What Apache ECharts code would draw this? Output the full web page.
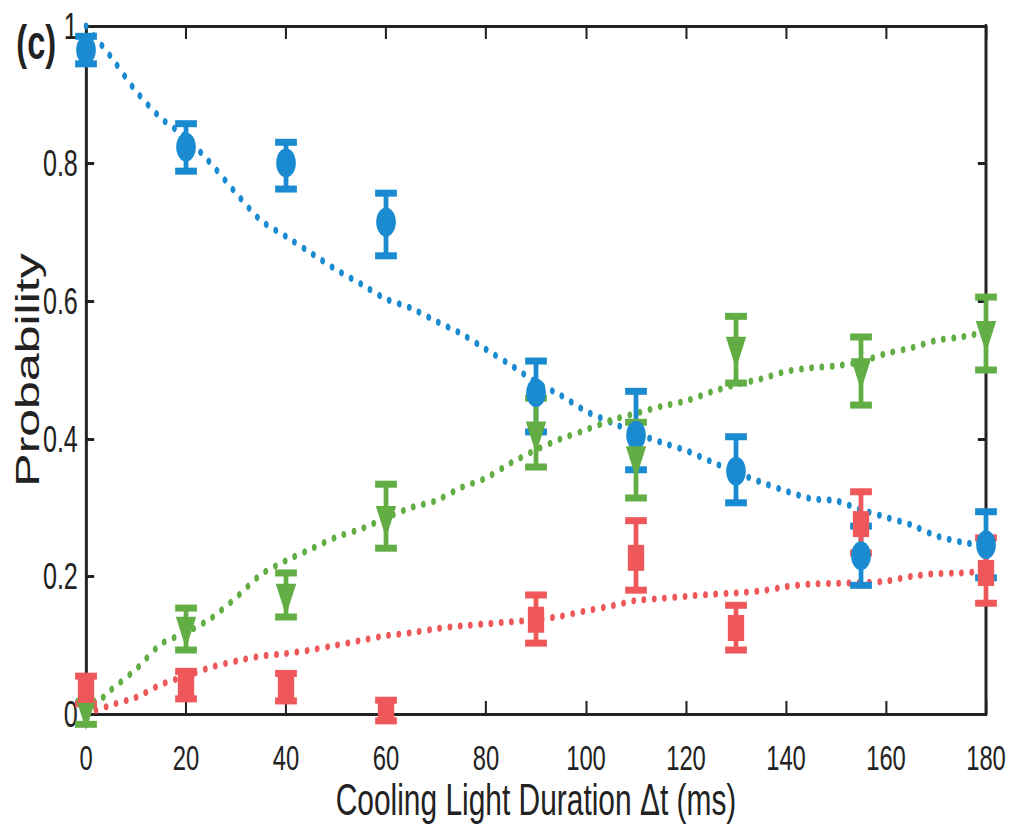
<!DOCTYPE html>
<html>
<head>
<meta charset="utf-8">
<script src="https://cdn.jsdelivr.net/npm/echarts@6/dist/echarts.min.js"></script>
<style>
  html, body { margin: 0; padding: 0; background: #fff; overflow: hidden; }
  #wrap { width: 1009px; height: 829px; overflow: hidden; }
  #chart { width: 1484px; height: 829px; transform: scaleX(0.68); transform-origin: 0 0; }
</style>
</head>
<body>
<div id="wrap"><div id="chart"></div></div>
<script>
// ---- data ----
const xTicks = [0, 20, 40, 60, 80, 100, 120, 140, 160, 180];
const yTickLabels = ['0', '0.2', '0.4', '0.6', '0.8', '1'];

const measX = [0, 20, 40, 60, 90, 110, 130, 155, 180];

const blueY  = [0.965, 0.824, 0.801, 0.715, 0.467, 0.405, 0.353, 0.230, 0.246];
const blueLo = [0.945, 0.789, 0.763, 0.666, 0.410, 0.355, 0.307, 0.187, 0.198];
const blueHi = [0.985, 0.858, 0.831, 0.757, 0.513, 0.469, 0.403, 0.273, 0.294];

const greenY  = [0.000, 0.118, 0.166, 0.279, 0.402, 0.366, 0.525, 0.494, 0.548];
const greenLo = [-0.015, 0.093, 0.141, 0.241, 0.359, 0.314, 0.481, 0.449, 0.500];
const greenHi = [0.015, 0.154, 0.205, 0.334, 0.459, 0.424, 0.578, 0.548, 0.606];

const redY  = [0.035, 0.042, 0.039, 0.005, 0.137, 0.227, 0.125, 0.276, 0.205];
const redLo = [0.015, 0.022, 0.019, -0.010, 0.103, 0.180, 0.093, 0.234, 0.161];
const redHi = [0.055, 0.062, 0.059, 0.020, 0.173, 0.281, 0.158, 0.323, 0.256];

const curveX = [0,5,10,15,20,25,30,35,40,45,50,55,60,65,70,75,80,85,90,95,100,105,110,115,120,125,130,135,140,145,150,155,160,165,170,175,180];
const blueCurve  = [1.000,0.955,0.905,0.866,0.838,0.800,0.757,0.717,0.694,0.670,0.646,0.625,0.603,0.590,0.571,0.553,0.530,0.507,0.482,0.463,0.440,0.424,0.408,0.395,0.383,0.367,0.351,0.337,0.324,0.313,0.310,0.297,0.286,0.275,0.259,0.250,0.244];
const greenCurve = [0.000,0.035,0.065,0.102,0.118,0.139,0.169,0.203,0.223,0.240,0.257,0.269,0.285,0.300,0.310,0.329,0.343,0.365,0.384,0.400,0.413,0.427,0.437,0.447,0.455,0.468,0.479,0.487,0.498,0.503,0.506,0.512,0.524,0.532,0.543,0.548,0.555];
const redCurve   = [0.000,0.013,0.024,0.043,0.055,0.068,0.077,0.084,0.088,0.093,0.100,0.107,0.114,0.118,0.124,0.128,0.131,0.134,0.137,0.142,0.150,0.157,0.165,0.168,0.171,0.174,0.176,0.179,0.185,0.189,0.190,0.191,0.193,0.200,0.204,0.205,0.208];

// ---- styling ----
const BLUE = '#1b8bd1', GREEN = '#62ae44', RED = '#ef585a', INK = '#222222';
const FONT = "'Liberation Sans', Arial, Helvetica, sans-serif";

const chart = echarts.init(document.getElementById('chart'), null, { renderer: 'svg' });

function pairs(xs, ys) { return xs.map((x, i) => [x, ys[i]]); }

function errSeries(color, lo, hi) {
  return {
    type: 'custom',
    data: measX.map((x, i) => [x, lo[i], hi[i]]),
    encode: { x: 0, y: [1, 2] },
    z: 3,
    renderItem: function (params, api) {
      const x = api.value(0);
      const pLo = api.coord([x, api.value(1)]);
      const pHi = api.coord([x, api.value(2)]);
      const cw = 32, ct = 7, sw = 7;
      return {
        type: 'group',
        children: [
          { type: 'rect', shape: { x: pLo[0] - sw / 2, y: pHi[1], width: sw, height: pLo[1] - pHi[1] }, style: { fill: color } },
          { type: 'rect', shape: { x: pHi[0] - cw / 2, y: pHi[1] - ct / 2, width: cw, height: ct }, style: { fill: color } },
          { type: 'rect', shape: { x: pLo[0] - cw / 2, y: pLo[1] - ct / 2, width: cw, height: ct }, style: { fill: color } }
        ]
      };
    }
  };
}

function curveSeries(color, ys) {
  return {
    type: 'line',
    data: pairs(curveX, ys),
    showSymbol: false,
    smooth: 0.2,
    z: 1,
    lineStyle: { color: color, width: 7, type: [0.1, 15], cap: 'round' }
  };
}

function markSeries(color, ys, symbol, size, rotate) {
  return {
    type: 'scatter',
    data: pairs(measX, ys),
    symbol: symbol,
    symbolSize: size,
    symbolRotate: rotate || 0,
    clip: false,
    z: 4,
    itemStyle: { color: color, opacity: 1 }
  };
}

const xAxisBase = {
  type: 'value', min: 0, max: 180, interval: 20,
  splitLine: { show: false },
  axisLine: { show: true, onZero: false, lineStyle: { color: INK, width: 3 } },
  axisTick: { show: true, inside: true, length: 13, lineStyle: { color: INK, width: 3 } }
};
const yAxisBase = {
  type: 'value', min: 0, max: 1, interval: 0.2,
  splitLine: { show: false },
  axisLine: { show: true, onZero: false, lineStyle: { color: INK, width: 4.4 } },
  axisTick: { show: true, inside: true, length: 12, lineStyle: { color: INK, width: 3 } }
};

const option = {
  backgroundColor: '#ffffff',
  animation: false,
  textStyle: { fontFamily: FONT },
  title: {
    text: '(c)', left: 19, top: 14,
    textStyle: { fontFamily: FONT, fontSize: 48, fontWeight: 'bold', color: INK }
  },
  grid: { left: 126.5, right: 34, top: 26, bottom: 115, containLabel: false, outerBoundsMode: 'none' },
  xAxis: [
    Object.assign({}, xAxisBase, {
      position: 'bottom',
      name: 'Cooling Light Duration \u0394t (ms)',
      nameLocation: 'middle', nameGap: 64, nameMoveOverlap: false,
      nameTextStyle: { fontFamily: FONT, fontSize: 44, color: INK },
      axisLabel: {
        show: true, margin: 26, fontSize: 35, color: INK, fontFamily: FONT,
        formatter: v => String(xTicks[xTicks.indexOf(v)])
      }
    }),
    Object.assign({}, xAxisBase, { position: 'top', axisLabel: { show: false } })
  ],
  yAxis: [
    Object.assign({}, yAxisBase, {
      position: 'left',
      name: 'Probability',
      nameLocation: 'middle', nameGap: 62, nameMoveOverlap: false,
      nameTextStyle: { fontFamily: FONT, fontSize: 50, color: INK },
      axisLabel: {
        show: true, margin: 12, fontSize: 37, color: INK, fontFamily: FONT,
        formatter: v => yTickLabels[Math.round(v / 0.2)]
      }
    }),
    Object.assign({}, yAxisBase, { position: 'right', axisLabel: { show: false } })
  ],
  series: [
    curveSeries(BLUE, blueCurve),
    curveSeries(GREEN, greenCurve),
    curveSeries(RED, redCurve),
    errSeries(BLUE, blueLo, blueHi),
    markSeries(BLUE, blueY, 'circle', 29),
    errSeries(GREEN, greenLo, greenHi),
    markSeries(GREEN, greenY, 'triangle', [30, 32], 180),
    errSeries(RED, redLo, redHi),
    markSeries(RED, redY, 'rect', [24, 26])
  ]
};
chart.setOption(option);
</script>
</body>
</html>
